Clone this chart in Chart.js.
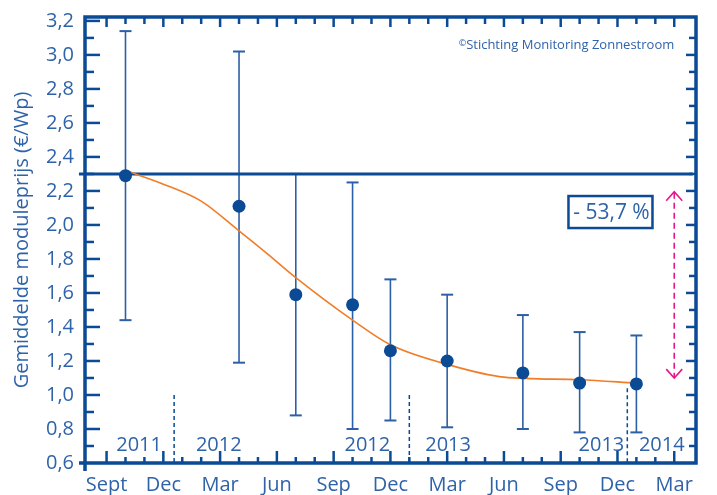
<!DOCTYPE html>
<html>
<head>
<meta charset="utf-8">
<title>Gemiddelde moduleprijs</title>
<script src="https://cdn.jsdelivr.net/npm/chart.js@4.4.0/dist/chart.umd.min.js"></script>
<style>
  html, body { margin: 0; padding: 0; background: #ffffff; }
  #wrap { width: 717px; height: 495px; }
</style>
</head>
<body>
<div id="wrap"><canvas id="priceChart"></canvas></div>
<script>
// months counted from Sept 2011 (= 0)
const months = [1, 7, 10, 13, 15, 18, 22, 25, 28];
const priceMean = [2.29, 2.11, 1.59, 1.53, 1.26, 1.2, 1.13, 1.07, 1.065];
const priceHigh = [3.14, 3.02, 2.3, 2.25, 1.68, 1.59, 1.47, 1.37, 1.35];
const priceLow = [1.44, 1.19, 0.88, 0.8, 0.85, 0.81, 0.8, 0.78, 0.78];

// orange trend line
const trendMonths = [1, 3, 5, 7, 8.5, 10, 13, 15, 18, 21, 25, 28];
const trendPrice = [2.32, 2.24, 2.14, 1.965, 1.83, 1.69, 1.44, 1.295, 1.18, 1.105, 1.09, 1.07];

// reference level
const startPrice = 2.3;
const refMonths = [-1.46, 30.98];

// axes
const monthTicks = [0, 3, 6, 9, 12, 15, 18, 21, 24, 27, 30];
const monthLabels = ["Sept", "Dec", "Mar", "Jun", "Sep", "Dec", "Mar", "Jun", "Sep", "Dec", "Mar"];
const priceTicks = [0.6, 0.8, 1.0, 1.2, 1.4, 1.6, 1.8, 2.0, 2.2, 2.4, 2.6, 2.8, 3.0, 3.2];

// year markers along the bottom
const yearLabels = ["2011", "2012", "2012", "2013", "2013", "2014"];
const yearLabelMonths = [1.72, 5.93, 13.78, 18.05, 26.15, 29.34];
const yearBreakMonths = [3.57, 16.0, 27.52];
const yearBreakTop = [1.0, 1.0, 1.04];

// drop annotation
const dropText = "- 53,7 %";
const dropFrom = 2.195;
const dropTo = 1.099;
const dropMonth = 30;
const copyrightText = "Stichting Monitoring Zonnestroom";

const darkBlue = "#0b4a94";
const barBlue = "#2c5fa6";
const textBlue = "#2f63a9";
const orange = "#f07d28";
const magenta = "#e6168a";
const fontFamily = '"Open Sans", "DejaVu Sans", sans-serif';

function fmt(v) {
  return v.toFixed(1).replace(".", ",");
}

function line(ctx, x1, y1, x2, y2) {
  ctx.beginPath();
  ctx.moveTo(x1, y1);
  ctx.lineTo(x2, y2);
  ctx.stroke();
}

// vertical range bars behind the dots
const errorBars = {
  id: "errorBars",
  beforeDatasetsDraw(chart) {
    const { ctx, scales: { x, y } } = chart;
    ctx.save();
    ctx.strokeStyle = barBlue;
    months.forEach((m, i) => {
      const px = x.getPixelForValue(m);
      const yh = y.getPixelForValue(priceHigh[i]);
      const yl = y.getPixelForValue(priceLow[i]);
      ctx.lineWidth = 1.6;
      line(ctx, px, yh, px, yl);
      ctx.lineWidth = 2;
      line(ctx, px - 6, yh, px + 6, yh);
      line(ctx, px - 6, yl, px + 6, yl);
    });
    ctx.restore();
  },
};

// box frame with inward ticks on all four sides
const frameTicks = {
  id: "frameTicks",
  afterDatasetsDraw(chart) {
    const { ctx, chartArea: a, scales: { x, y } } = chart;
    ctx.save();
    ctx.strokeStyle = darkBlue;
    ctx.lineWidth = 2.5;
    for (let m = 0; m <= 30; m++) {
      const px = x.getPixelForValue(m);
      const major = m % 3 === 0;
      line(ctx, px, a.bottom, px, a.bottom - (major ? 12 : 6));
      line(ctx, px, a.top, px, a.top + (major ? 10 : 7));
    }
    for (let k = 7; k <= 32; k++) {
      const py = y.getPixelForValue(k / 10);
      const major = k % 2 === 0;
      line(ctx, a.left, py, a.left + (major ? 15 : 9), py);
      if (k <= 31) line(ctx, a.right, py, a.right - (major ? 10 : 7), py);
    }
    ctx.lineWidth = 3.5;
    ctx.strokeRect(a.left, a.top, a.right - a.left, a.bottom - a.top);
    line(ctx, a.left - 6, a.bottom, a.left, a.bottom);
    line(ctx, a.left, a.bottom, a.left, a.bottom + 8);
    ctx.restore();
  },
};

const annotations = {
  id: "annotations",
  afterDatasetsDraw(chart) {
    const { ctx, chartArea: a, scales: { x, y } } = chart;
    ctx.save();

    // dashed year separators
    ctx.strokeStyle = darkBlue;
    ctx.lineWidth = 1.5;
    ctx.setLineDash([4, 3]);
    yearBreakMonths.forEach((m, i) => {
      const px = x.getPixelForValue(m);
      line(ctx, px, y.getPixelForValue(yearBreakTop[i]), px, a.bottom);
    });
    ctx.setLineDash([]);

    ctx.fillStyle = textBlue;
    ctx.font = "20px " + fontFamily;
    ctx.textAlign = "center";
    ctx.textBaseline = "alphabetic";
    yearLabels.forEach((t, i) => {
      ctx.fillText(t, x.getPixelForValue(yearLabelMonths[i]), y.getPixelForValue(0.67));
    });

    // copyright line
    ctx.font = "13px " + fontFamily;
    ctx.textAlign = "right";
    const cx = x.getPixelForValue(30);
    const cy = y.getPixelForValue(3.033);
    ctx.fillText(copyrightText, cx, cy);
    const w = ctx.measureText(copyrightText).width;
    ctx.font = "9px " + fontFamily;
    ctx.fillText("\u00a9", cx - w, cy - 3);

    // percentage box
    const bx = x.getPixelForValue(26.63);
    const by = y.getPixelForValue(2.076);
    ctx.fillStyle = "#ffffff";
    ctx.fillRect(bx - 42, by - 16, 84, 32);
    ctx.strokeStyle = darkBlue;
    ctx.lineWidth = 2.5;
    ctx.strokeRect(bx - 42, by - 16, 84, 32);
    ctx.fillStyle = textBlue;
    ctx.font = "21px " + fontFamily;
    ctx.textAlign = "center";
    ctx.textBaseline = "middle";
    ctx.fillText(dropText, bx + 1, by + 1);

    // magenta double arrow
    const ax = x.getPixelForValue(dropMonth);
    const ay1 = y.getPixelForValue(dropFrom);
    const ay2 = y.getPixelForValue(dropTo);
    ctx.strokeStyle = magenta;
    ctx.lineWidth = 1.6;
    ctx.setLineDash([6, 4]);
    line(ctx, ax, ay1 + 1, ax, ay2 - 1);
    ctx.setLineDash([]);
    ctx.beginPath();
    ctx.moveTo(ax - 8, ay1 + 9);
    ctx.lineTo(ax, ay1);
    ctx.lineTo(ax + 8, ay1 + 9);
    ctx.moveTo(ax - 8, ay2 - 9);
    ctx.lineTo(ax, ay2);
    ctx.lineTo(ax + 8, ay2 - 9);
    ctx.stroke();

    ctx.restore();
  },
};

const ctx = document.getElementById("priceChart").getContext("2d");

window.priceChart = new Chart(ctx, {
  type: "line",
  data: {
    datasets: [
      {
        label: "Gemiddelde prijs",
        data: months.map((m, i) => ({ x: m, y: priceMean[i] })),
        showLine: false,
        pointRadius: 6.5,
        pointBackgroundColor: darkBlue,
        pointBorderWidth: 0,
        order: 0,
      },
      {
        label: "Trend",
        data: trendMonths.map((m, i) => ({ x: m, y: trendPrice[i] })),
        borderColor: orange,
        borderWidth: 1.6,
        pointRadius: 0,
        cubicInterpolationMode: "monotone",
        order: 1,
      },
      {
        label: "Start",
        data: refMonths.map((m) => ({ x: m, y: startPrice })),
        borderColor: darkBlue,
        borderWidth: 3,
        pointRadius: 0,
        clip: false,
        order: 2,
      },
    ],
  },
  options: {
    responsive: true,
    maintainAspectRatio: false,
    animation: false,
    layout: { padding: { top: 17, right: 21, left: 0, bottom: 0 } },
    plugins: {
      legend: { display: false },
      tooltip: { enabled: false },
    },
    scales: {
      x: {
        type: "linear",
        min: -1.14,
        max: 31.15,
        grid: { display: false, drawTicks: false },
        border: { display: false },
        afterBuildTicks: (s) => {
          s.ticks = monthTicks.map((v) => ({ value: v }));
        },
        afterFit: (s) => {
          s.height = 32;
          s.paddingLeft = 0;
          s.paddingRight = 0;
        },
        ticks: {
          autoSkip: false,
          maxRotation: 0,
          padding: 10,
          color: textBlue,
          font: { family: fontFamily, size: 20 },
          callback: (v, i) => monthLabels[i],
        },
      },
      y: {
        min: 0.6,
        max: 3.223,
        grid: { display: false, drawTicks: false },
        border: { display: false },
        afterBuildTicks: (s) => {
          s.ticks = priceTicks.map((v) => ({ value: v }));
        },
        afterFit: (s) => {
          s.width = 85;
          s.paddingTop = 0;
          s.paddingBottom = 0;
        },
        ticks: {
          padding: 11,
          color: textBlue,
          font: { family: fontFamily, size: 20 },
          callback: (v) => fmt(v),
        },
        title: {
          display: true,
          text: "Gemiddelde moduleprijs (\u20ac/Wp)",
          color: textBlue,
          font: { family: fontFamily, size: 20 },
          padding: { top: 10, bottom: 0 },
        },
      },
    },
  },
  plugins: [errorBars, frameTicks, annotations],
});
</script>
</body>
</html>
